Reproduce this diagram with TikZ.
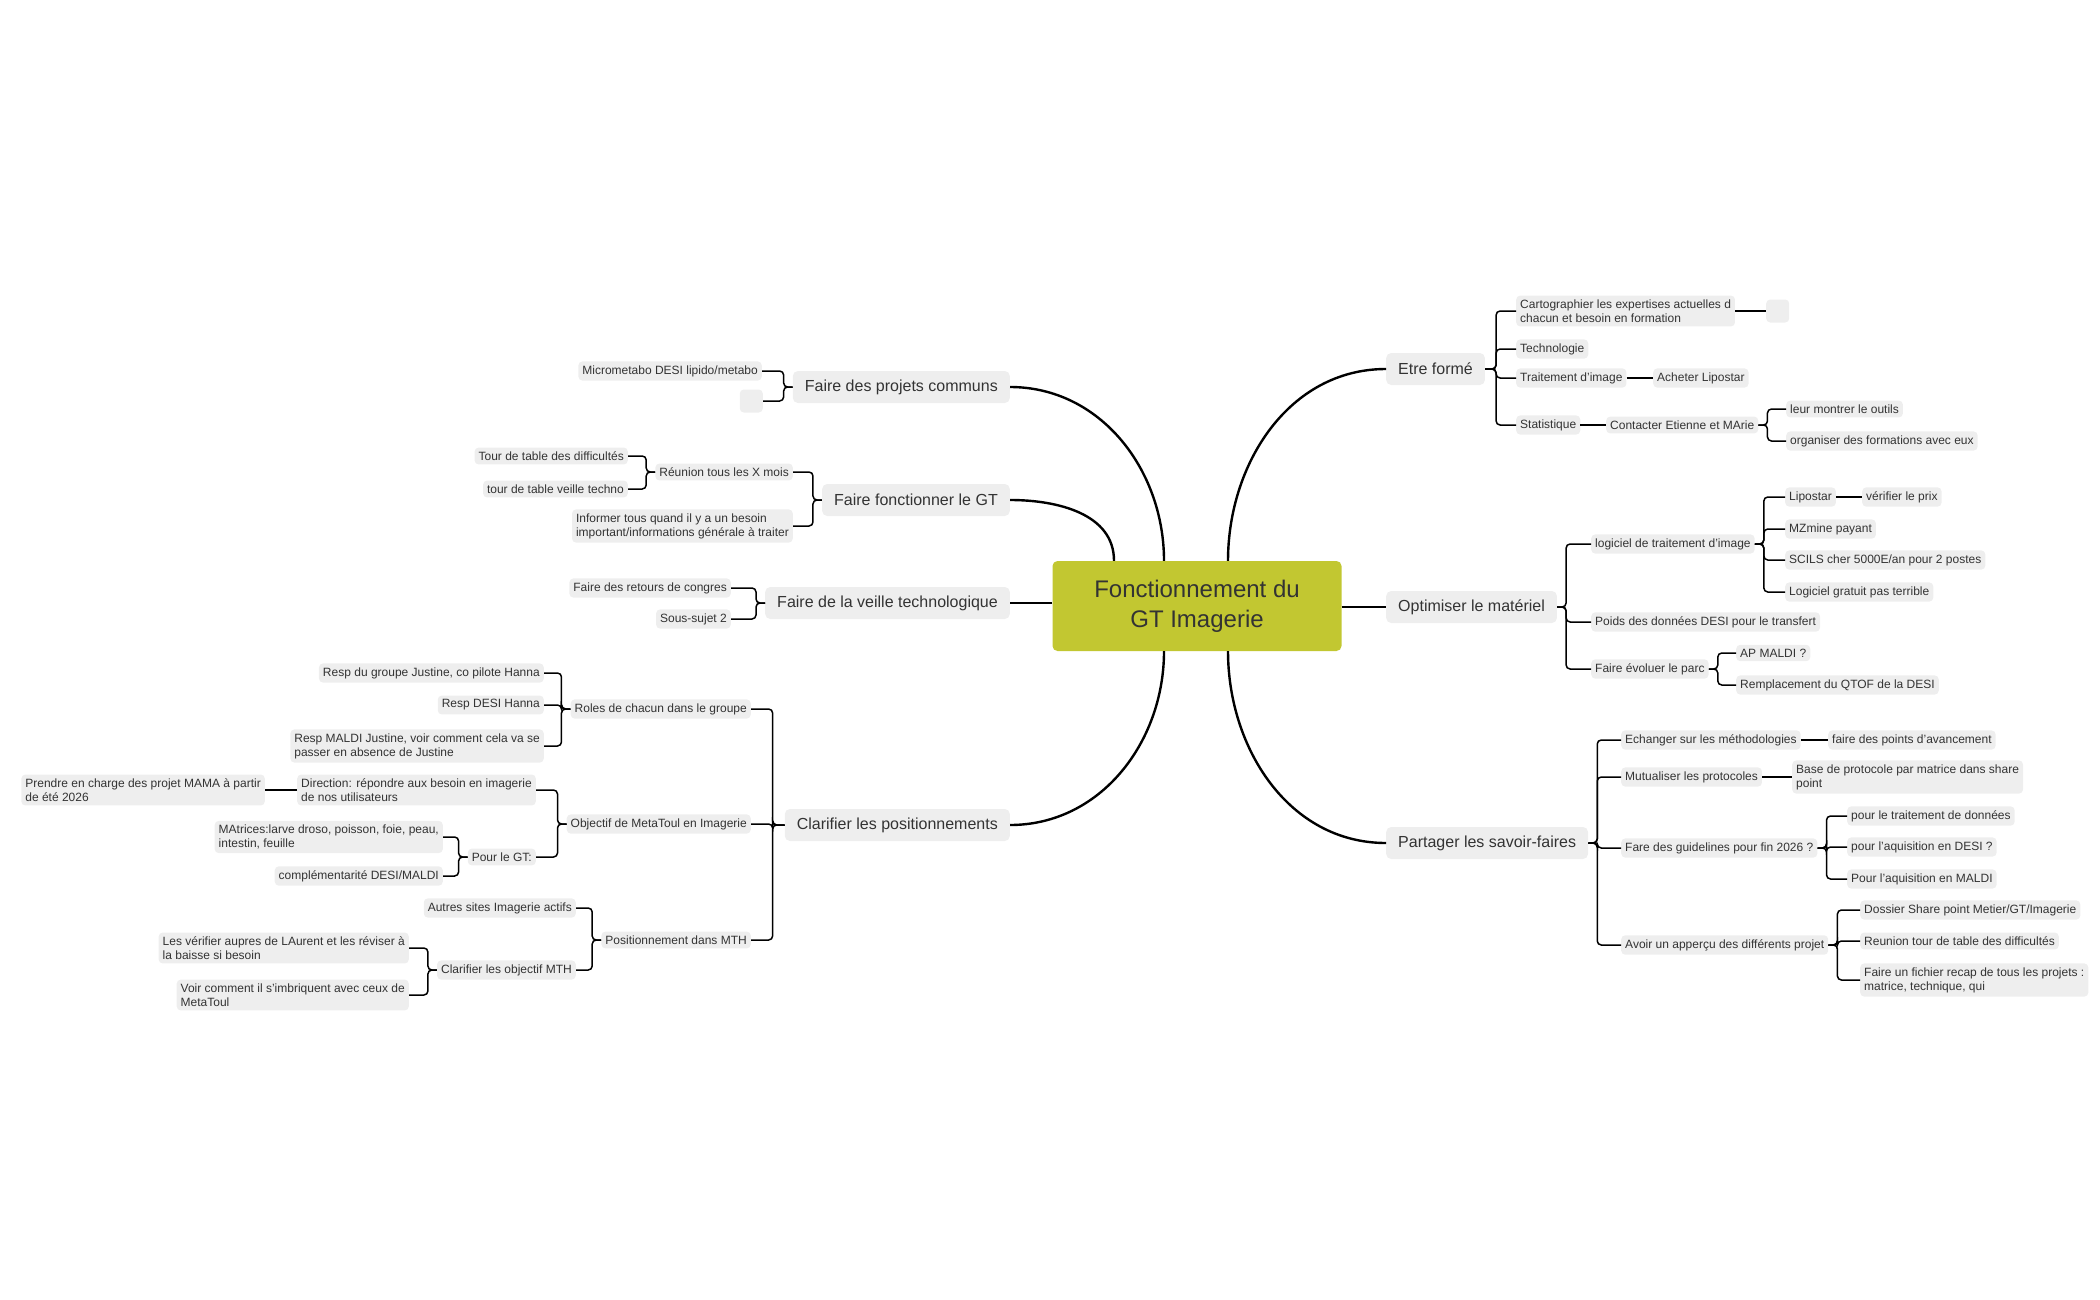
\documentclass[tikz,border=0pt]{standalone}
\usepackage{fontspec}
\setmainfont{Liberation Sans}
\usetikzlibrary{calc}
\definecolor{boxgray}{HTML}{EEEEEE}
\definecolor{textgray}{HTML}{333333}
\definecolor{olive}{HTML}{C2C731}

\begin{document}
\begin{tikzpicture}[x=1pt, y=-1pt,
  leaf/.style={fill=boxgray, rounded corners=4pt, inner xsep=4pt, inner ysep=4pt, align=left, text=textgray, font=\fontsize{12}{14}\selectfont},
  topic/.style={fill=boxgray, rounded corners=5pt, inner xsep=12pt, minimum height=32pt, text=textgray, font=\fontsize{16}{19}\selectfont},
  hole/.style={fill=boxgray, rounded corners=4pt, minimum width=23pt, minimum height=23pt},
  lk/.style={line width=1.5pt, rounded corners=4pt},
  br/.style={line width=2.4pt}]
\useasboundingbox (0,0) rectangle (2100,1300);

% centre
\node[fill=olive, rounded corners=5pt, minimum width=289pt, minimum height=90pt, align=center, text=textgray, font=\fontsize{24}{30}\selectfont] (c) at (1197,606) {Fonctionnement du\\GT Imagerie};

% left topics
\node[topic, anchor=east] (pc) at (1010,387) {Faire des projets communs};
\node[topic, anchor=east] (fg) at (1010,500) {Faire fonctionner le GT};
\node[topic, anchor=east] (vt) at (1010,603) {Faire de la veille technologique};
\node[topic, anchor=east] (cp) at (1010,825) {Clarifier les positionnements};
% right topics
\node[topic, anchor=west] (ef) at (1386,369) {Etre formé};
\node[topic, anchor=west] (om) at (1386,607) {Optimiser le matériel};
\node[topic, anchor=west] (ps) at (1386,843) {Partager les savoir-faires};

\draw[br] ($(c.north)+(-33,0)$) to[out=90, in=0] (pc.east);
\draw[br] ($(c.north)+(-83,0)$) to[out=90, in=0] (fg.east);
\draw[br] (c.west |- vt) -- (vt.east);
\draw[br] ($(c.south)+(-33,0)$) to[out=-90, in=0] (cp.east);
\draw[br] ($(c.north)+(31,0)$) to[out=90, in=180] (ef.west);
\draw[br] (c.east |- om) -- (om.west);
\draw[br] ($(c.south)+(31,0)$) to[out=-90, in=180] (ps.west);

% projets communs
\node[leaf, anchor=east] (pc1) at (762,371) {Micrometabo DESI lipido/metabo};
\node[hole, anchor=east] (pc2) at (763,401) {};
\foreach \k in {pc1,pc2} \draw[lk] (pc.west) -- ++(-9,0) |- (\k.east);

% fonctionner le GT
\node[leaf, anchor=east] (fg1) at (793,472) {Réunion tous les X mois};
\node[leaf, anchor=east] (fg2) at (793,526) {Informer tous quand il y a un besoin\\important/informations générale à traiter};
\node[leaf, anchor=east] (fg11) at (628,456) {Tour de table des difficultés};
\node[leaf, anchor=east] (fg12) at (628,489) {tour de table veille techno};
\foreach \k in {fg1,fg2} \draw[lk] (fg.west) -- ++(-9,0) |- (\k.east);
\foreach \k in {fg11,fg12} \draw[lk] (fg1.west) -- ++(-9,0) |- (\k.east);

% veille
\node[leaf, anchor=east] (vt1) at (731,588) {Faire des retours de congres};
\node[leaf, anchor=east] (vt2) at (731,619) {Sous-sujet 2};
\foreach \k in {vt1,vt2} \draw[lk] (vt.west) -- ++(-9,0) |- (\k.east);

% positionnements
\node[leaf, anchor=east] (cp1) at (751,709) {Roles de chacun dans le groupe};
\node[leaf, anchor=east] (cp2) at (751,824) {Objectif de MetaToul en Imagerie};
\node[leaf, anchor=east] (cp3) at (751,940) {Positionnement dans MTH};
\foreach \k in {cp1,cp2,cp3} \draw[lk] (cp.west) -- ++(-12,0) |- (\k.east);
\node[leaf, anchor=east] (cp11) at (544,673) {Resp du groupe Justine, co pilote Hanna};
\node[leaf, anchor=east] (cp12) at (544,705) {Resp DESI Hanna};
\node[leaf, anchor=east] (cp13) at (544,746) {Resp MALDI Justine, voir comment cela va se\\passer en absence de Justine};
\foreach \k in {cp11,cp12,cp13} \draw[lk] (cp1.west) -- ++(-9,0) |- (\k.east);
\node[leaf, anchor=east] (cp21) at (536,790) {Direction: répondre aux besoin en imagerie\\de nos utilisateurs};
\node[leaf, anchor=east] (cp22) at (536,857) {Pour le GT:};
\foreach \k in {cp21,cp22} \draw[lk] (cp2.west) -- ++(-9,0) |- (\k.east);
\node[leaf, anchor=east] (cp211) at (265,790) {Prendre en charge des projet MAMA à partir\\de été 2026};
\draw[lk] (cp21.west) -- (cp211.east);
\node[leaf, anchor=east] (cp221) at (443,837) {MAtrices:larve droso, poisson, foie, peau,\\intestin, feuille};
\node[leaf, anchor=east] (cp222) at (443,876) {complémentarité DESI/MALDI};
\foreach \k in {cp221,cp222} \draw[lk] (cp22.west) -- ++(-9,0) |- (\k.east);
\node[leaf, anchor=east] (cp31) at (576,908) {Autres sites Imagerie actifs};
\node[leaf, anchor=east] (cp32) at (576,970) {Clarifier les objectif MTH};
\foreach \k in {cp31,cp32} \draw[lk] (cp3.west) -- ++(-9,0) |- (\k.east);
\node[leaf, anchor=east] (cp321) at (409,948) {Les vérifier aupres de LAurent et les réviser à\\la baisse si besoin};
\node[leaf, anchor=east] (cp322) at (409,995) {Voir comment il s'imbriquent avec ceux de\\MetaToul};
\foreach \k in {cp321,cp322} \draw[lk] (cp32.west) -- ++(-9,0) |- (\k.east);

% etre forme
\node[leaf, anchor=west] (ef1) at (1516,311) {Cartographier les expertises actuelles d\\chacun et besoin en formation};
\node[leaf, anchor=west] (ef2) at (1516,349) {Technologie};
\node[leaf, anchor=west] (ef3) at (1516,378) {Traitement d'image};
\node[leaf, anchor=west] (ef4) at (1516,425) {Statistique};
\foreach \k in {ef1,ef2,ef3,ef4} \draw[lk] (ef.east) -- ++(11,0) |- (\k.west);
\node[hole, anchor=west] (ef11) at (1766,311) {};
\draw[lk] (ef1.east) -- (ef11.west);
\node[leaf, anchor=west] (ef31) at (1653,378) {Acheter Lipostar};
\draw[lk] (ef3.east) -- (ef31.west);
\node[leaf, anchor=west] (ef41) at (1606,425) {Contacter Etienne et MArie};
\draw[lk] (ef4.east) -- (ef41.west);
\node[leaf, anchor=west] (ef411) at (1786,409) {leur montrer le outils};
\node[leaf, anchor=west] (ef412) at (1786,441) {organiser des formations avec eux};
\foreach \k in {ef411,ef412} \draw[lk] (ef41.east) -- ++(9,0) |- (\k.west);

% materiel
\node[leaf, anchor=west] (om1) at (1591,544) {logiciel de traitement d'image};
\node[leaf, anchor=west] (om2) at (1591,622) {Poids des données DESI pour le transfert};
\node[leaf, anchor=west] (om3) at (1591,669) {Faire évoluer le parc};
\foreach \k in {om1,om2,om3} \draw[lk] (om.east) -- ++(9,0) |- (\k.west);
\node[leaf, anchor=west] (om11) at (1785,497) {Lipostar};
\node[leaf, anchor=west] (om12) at (1785,529) {MZmine payant};
\node[leaf, anchor=west] (om13) at (1785,560) {SCILS cher 5000E/an pour 2 postes};
\node[leaf, anchor=west] (om14) at (1785,592) {Logiciel gratuit pas terrible};
\foreach \k in {om11,om12,om13,om14} \draw[lk] (om1.east) -- ++(9,0) |- (\k.west);
\node[leaf, anchor=west] (om111) at (1862,497) {vérifier le prix};
\draw[lk] (om11.east) -- (om111.west);
\node[leaf, anchor=west] (om31) at (1736,653) {AP MALDI ?};
\node[leaf, anchor=west] (om32) at (1736,685) {Remplacement du QTOF de la DESI};
\foreach \k in {om31,om32} \draw[lk] (om3.east) -- ++(9,0) |- (\k.west);

% savoir-faires
\node[leaf, anchor=west] (ps1) at (1621,740) {Echanger sur les méthodologies};
\node[leaf, anchor=west] (ps2) at (1621,777) {Mutualiser les protocoles};
\node[leaf, anchor=west] (ps3) at (1621,848) {Fare des guidelines pour fin 2026 ?};
\node[leaf, anchor=west] (ps4) at (1621,945) {Avoir un apperçu des différents projet};
\foreach \k in {ps1,ps2,ps3,ps4} \draw[lk] (ps.east) -- ++(9,0) |- (\k.west);
\node[leaf, anchor=west] (ps11) at (1828,740) {faire des points d'avancement};
\draw[lk] (ps1.east) -- (ps11.west);
\node[leaf, anchor=west] (ps21) at (1792,777) {Base de protocole par matrice dans share\\point};
\draw[lk] (ps2.east) -- (ps21.west);
\node[leaf, anchor=west] (ps31) at (1847,816) {pour le traitement de données};
\node[leaf, anchor=west] (ps32) at (1847,847) {pour l'aquisition en DESI ?};
\node[leaf, anchor=west] (ps33) at (1847,879) {Pour l'aquisition en MALDI};
\foreach \k in {ps31,ps32,ps33} \draw[lk] (ps3.east) -- ++(9,0) |- (\k.west);
\node[leaf, anchor=west] (ps41) at (1860,910) {Dossier Share point Metier/GT/Imagerie};
\node[leaf, anchor=west] (ps42) at (1860,941) {Reunion tour de table des difficultés};
\node[leaf, anchor=west] (ps43) at (1860,980) {Faire un fichier recap de tous les projets :\\matrice, technique, qui};
\foreach \k in {ps41,ps42,ps43} \draw[lk] (ps4.east) -- ++(9,0) |- (\k.west);
\end{tikzpicture}
\end{document}
